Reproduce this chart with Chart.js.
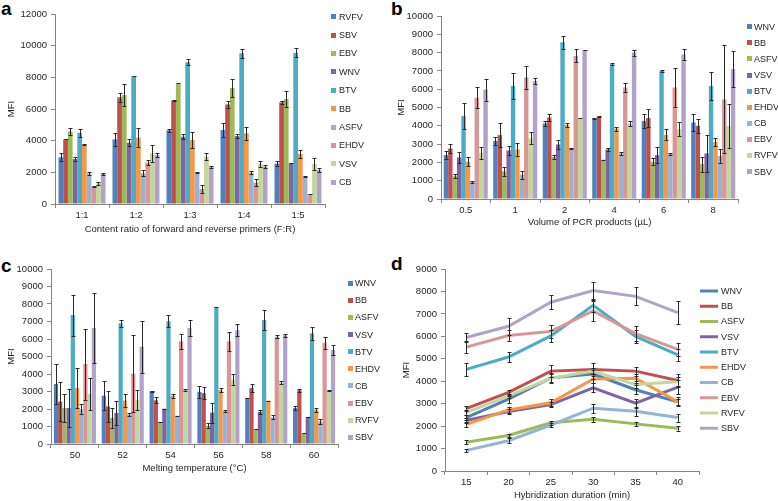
<!DOCTYPE html>
<html><head><meta charset="utf-8">
<script src="https://cdn.jsdelivr.net/npm/chart.js@4.4.1/dist/chart.umd.min.js"></script>
<style>
html,body{margin:0;padding:0;background:#fff;width:778px;height:501px;overflow:hidden;position:relative;font-family:"Liberation Sans",Arial,sans-serif}
canvas{position:absolute}
.lbl{position:absolute;font-weight:bold;font-size:19px;line-height:1;color:#000}
</style></head><body>
<div class="lbl" style="left:1px;top:-1px">a</div>
<div class="lbl" style="left:391px;top:-1px">b</div>
<div class="lbl" style="left:1px;top:256px">c</div>
<div class="lbl" style="left:391px;top:254px">d</div>
<canvas id="ca" width="389" height="250" style="left:0;top:0"></canvas>
<canvas id="cb" width="388" height="250" style="left:390px;top:0"></canvas>
<canvas id="cc" width="389" height="251" style="left:0;top:250px"></canvas>
<canvas id="cd" width="388" height="251" style="left:390px;top:250px"></canvas>
<script>
// ---------- Panel a ----------
const aCategories = ['1:1','1:2','1:3','1:4','1:5'];
const aNames = ['RVFV','SBV','EBV','WNV','BTV','BB','ASFV','EHDV','VSV','CB'];
const a_RVFV = [2950, 4080, 4650, 4670, 2550], a_RVFV_err = [260, 400, 80, 440, 150];
const a_SBV  = [4080, 6740, 6530, 6290, 6420], a_SBV_err  = [0, 280, 50, 230, 100];
const a_EBV  = [4570, 6880, 7620, 7330, 6630], a_EBV_err  = [200, 700, 0, 550, 530];
const a_WNV  = [2840, 3870, 4250, 4290, 2570], a_WNV_err  = [100, 230, 150, 150, 0];
const a_BTV  = [4500, 8080, 8950, 9520, 9560], a_BTV_err  = [250, 0, 180, 280, 280];
const a_BB   = [3730, 4190, 4040, 4460, 3160], a_BB_err   = [30, 580, 500, 420, 270];
const a_ASFV = [1940, 1940, 2000, 1980, 1730], a_ASFV_err = [100, 200, 50, 100, 50];
const a_EHDV = [1100, 2610, 950, 1350, 630],  a_EHDV_err = [50, 170, 230, 230, 0];
const a_VSV  = [1300, 3200, 2990, 2530, 2530], a_VSV_err  = [100, 550, 200, 200, 400];
const a_CB   = [1900, 3090, 2320, 2360, 2150], a_CB_err   = [50, 100, 50, 100, 100];
const aTicks = [0, 2000, 4000, 6000, 8000, 10000, 12000];

// ---------- Panel b ----------
const bCategories = ['0.5','1','2','4','6','8'];
const bNames = ['WNV','BB','ASFV','VSV','BTV','EHDV','CB','EBV','RVFV','SBV'];
const b_WNV  = [2400, 3180, 4130, 4400, 4270, 4180], b_WNV_err  = [240, 230, 120, 50, 380, 450];
const b_BB   = [2760, 3490, 4450, 4490, 4420, 4000], b_BB_err   = [270, 640, 180, 20, 500, 390];
const b_ASFV = [1250, 1510, 2310, 2150, 2040, 1910], b_ASFV_err = [100, 230, 120, 0, 180, 410];
const b_VSV  = [2270, 2650, 2980, 2710, 2400, 2490], b_VSV_err  = [320, 220, 270, 90, 450, 1030];
const b_BTV  = [4530, 6180, 8560, 7360, 7000, 6180], b_BTV_err  = [720, 730, 360, 60, 40, 780];
const b_EHDV = [2040, 2710, 4050, 3850, 3510, 3110], b_EHDV_err = [230, 340, 110, 110, 290, 200];
const b_CB   = [930, 1330, 2760, 2490, 2450, 2350],  b_CB_err   = [80, 210, 40, 70, 70, 360];
const b_EBV  = [5530, 6640, 7820, 6090, 6090, 5440], b_EBV_err  = [570, 610, 350, 270, 1050, 2950];
const b_RVFV = [2530, 3310, 4420, 4110, 3820, 3980], b_RVFV_err = [320, 330, 0, 130, 400, 1200];
const b_SBV  = [5980, 6450, 8130, 8000, 7890, 7100], b_SBV_err  = [600, 180, 0, 160, 300, 1000];

// ---------- Panel c ----------
const cCategories = ['50','52','54','56','58','60'];
const cNames = ['WNV','BB','ASFV','VSV','BTV','EHDV','CB','EBV','RVFV','SBV'];
const c_WNV  = [3430, 2760, 3010, 2970, 2630, 2060], c_WNV_err  = [1120, 830, 20, 320, 0, 100];
const c_BB   = [2420, 2150, 2500, 2910, 3200, 3070], c_BB_err   = [1120, 890, 160, 350, 230, 70];
const c_ASFV = [2060, 1490, 1260, 1050, 860, 630],   c_ASFV_err = [800, 570, 20, 140, 0, 0];
const c_VSV  = [2060, 1770, 2020, 1790, 1830, 1540], c_VSV_err  = [1100, 710, 0, 570, 100, 0];
const c_BTV  = [7370, 6900, 7010, 7810, 7090, 6320], c_BTV_err  = [1170, 190, 340, 0, 590, 380];
const c_EHDV = [3200, 2480, 2760, 3090, 2480, 1960], c_EHDV_err = [1140, 380, 120, 110, 0, 120];
const c_CB   = [2000, 1680, 1620, 1870, 1520, 1280], c_CB_err   = [300, 100, 0, 50, 110, 150];
const c_EBV  = [4570, 4020, 5870, 5870, 6130, 5790], c_EBV_err  = [2030, 2190, 440, 550, 100, 350];
const c_RVFV = [2860, 2500, 3090, 3680, 3500, 3070], c_RVFV_err = [890, 570, 60, 320, 80, 20];
const c_SBV  = [6630, 5560, 6630, 6510, 6210, 5370], c_SBV_err  = [1980, 1480, 440, 360, 100, 300];

// ---------- Panel d ----------
const dCategories = ['15','20','25','30','35','40'];
const dNames = ['WNV','BB','ASFV','VSV','BTV','EHDV','CB','EBV','RVFV','SBV'];
const d_WNV  = [2380, 3200, 4150, 4320, 3620, 3080], d_WNV_err  = [100, 150, 200, 200, 200, 150];
const d_BB   = [2780, 3500, 4450, 4520, 4450, 4030], d_BB_err   = [100, 100, 280, 290, 200, 300];
const d_ASFV = [1280, 1580, 2150, 2300, 2100, 1900], d_ASFV_err = [80, 80, 80, 100, 80, 100];
const d_VSV  = [2250, 2650, 2960, 3700, 3020, 3740], d_VSV_err  = [100, 100, 100, 200, 200, 300];
const d_BTV  = [4530, 5080, 6020, 7380, 6000, 5170], d_BTV_err  = [300, 240, 280, 300, 300, 270];
const d_EHDV = [2080, 2720, 3040, 4100, 4130, 3080], d_EHDV_err = [100, 150, 150, 200, 200, 200];
const d_CB   = [920, 1350, 2050, 2800, 2660, 2380],  d_CB_err   = [60, 100, 80, 200, 200, 180];
const d_EBV  = [5520, 6040, 6220, 7130, 6120, 5420], d_EBV_err  = [280, 250, 300, 450, 350, 300];
const d_RVFV = [2600, 3350, 4130, 4450, 3850, 3980], d_RVFV_err = [100, 100, 200, 150, 150, 200];
const d_SBV  = [5950, 6450, 7520, 8040, 7780, 7060], d_SBV_err  = [200, 380, 320, 400, 400, 520];

const PALETTE = ['#4F81BD','#C0504D','#9BBB59','#8064A2','#4BACC6','#F79646','#95B3D7','#D99694','#C3D69B','#B3A2C7'];
const AX = '#868686', TXT = '#262626';
const FONT = '"Liberation Sans", Arial, sans-serif';
Chart.defaults.font.family = FONT;
Chart.defaults.font.size = 9;
Chart.defaults.color = TXT;

const errorBars = {
  id: 'errorBars',
  afterDatasetsDraw(chart, args, opts) {
    const ctx = chart.ctx, ys = chart.scales.y;
    ctx.save();
    ctx.lineWidth = 1;
    ctx.strokeStyle = opts.color || '#333';
    chart.data.datasets.forEach((ds, i) => {
      if (!ds.errors) return;
      const meta = chart.getDatasetMeta(i);
      meta.data.forEach((el, j) => {
        const v = ds.data[j], e = ds.errors[j];
        const x = Math.round(el.x) + 0.5;
        const t = Math.round(ys.getPixelForValue(v + e)) + 0.5;
        const b = Math.round(ys.getPixelForValue(v - e)) + 0.5;
        const c = opts.cap || 2;
        ctx.beginPath();
        if (e > 0) { ctx.moveTo(x, t); ctx.lineTo(x, b); ctx.moveTo(x - c, b); ctx.lineTo(x + c, b); }
        ctx.moveTo(x - c, t); ctx.lineTo(x + c, t);
        ctx.stroke();
      });
    });
    ctx.restore();
  }
};

const sideLegend = {
  id: 'sideLegend',
  afterDraw(chart, args, o) {
    if (!o || o.x === undefined) return;
    const ctx = chart.ctx;
    ctx.save();
    ctx.font = '9px ' + FONT;
    ctx.textBaseline = 'middle';
    ctx.textAlign = 'left';
    chart.data.datasets.forEach((ds, i) => {
      const y = o.y + i * o.dy;
      if (o.line) {
        ctx.strokeStyle = ds.borderColor; ctx.lineWidth = 3;
        ctx.beginPath(); ctx.moveTo(o.x, y); ctx.lineTo(o.x + o.w, y); ctx.stroke();
      } else {
        ctx.fillStyle = ds.backgroundColor;
        ctx.fillRect(o.x, Math.round(y - o.w / 2), o.w, o.w);
      }
      ctx.fillStyle = TXT;
      ctx.fillText(ds.label, o.x + o.w + o.gap, y + 0.5);
    });
    ctx.restore();
  }
};
Chart.register(errorBars, sideLegend);

function makeChart(id, type, labels, names, values, errs, o) {
  const datasets = names.map((n, i) => {
    const base = { label: n, data: values[i], errors: errs[i] };
    if (type === 'bar') {
      return Object.assign(base, { backgroundColor: PALETTE[i], borderWidth: 0, barPercentage: 1.0, categoryPercentage: o.cat });
    }
    return Object.assign(base, { borderColor: PALETTE[i], backgroundColor: PALETTE[i], borderWidth: 3, pointRadius: 0, tension: 0, order: -i });
  });
  return new Chart(document.getElementById(id), {
    type,
    data: { labels, datasets },
    options: {
      responsive: false, animation: false, devicePixelRatio: 1,
      layout: { autoPadding: false, padding: { left: 0, top: o.top, right: o.right, bottom: 0 } },
      plugins: {
        legend: { display: false }, tooltip: { enabled: false },
        errorBars: { color: '#2a2a2a', cap: o.cap },
        sideLegend: o.legend
      },
      scales: {
        x: {
          offset: true,
          grid: { display: true, drawOnChartArea: false, drawTicks: true, tickLength: 4, color: AX, offset: true },
          border: { color: AX },
          ticks: { color: TXT, font: { size: 9.5 }, padding: 2, maxRotation: 0, autoSkip: false },
          title: { display: true, text: o.xTitle, color: TXT, font: { size: 9.5 }, padding: { top: 0, bottom: o.xTitlePad } },
          afterFit(s) { s.height = o.xH; }
        },
        y: {
          min: 0, max: o.max,
          afterBuildTicks(s) { s.ticks = o.ticks.map(v => ({ value: v })); },
          ticks: { color: TXT, font: { size: 9.5 }, padding: 4, callback: v => String(v) },
          grid: { display: true, drawOnChartArea: false, drawTicks: true, tickLength: 4, color: AX },
          border: { color: AX },
          title: { display: true, text: 'MFI', color: TXT, font: { size: 9.5 }, padding: { top: o.yTitlePad, bottom: 0 } },
          afterFit(s) { s.width = o.yW; }
        }
      }
    }
  });
}

const tenTicks = [0,1000,2000,3000,4000,5000,6000,7000,8000,9000,10000];
const nineTicks = [0,1000,2000,3000,4000,5000,6000,7000,8000,9000];

makeChart('ca', 'bar', aCategories, aNames,
  [a_RVFV, a_SBV, a_EBV, a_WNV, a_BTV, a_BB, a_ASFV, a_EHDV, a_VSV, a_CB],
  [a_RVFV_err, a_SBV_err, a_EBV_err, a_WNV_err, a_BTV_err, a_BB_err, a_ASFV_err, a_EHDV_err, a_VSV_err, a_CB_err],
  { cat: 0.87, top: 14, right: 64, xH: 46, yW: 55, max: 12000, ticks: aTicks, cap: 2,
    xTitle: 'Content ratio of forward and reverse primers (F:R)', xTitlePad: 15, yTitlePad: 6,
    legend: { x: 331, y: 16.7, dy: 18.4, w: 5, gap: 3 } });

makeChart('cb', 'bar', bCategories, bNames,
  [b_WNV, b_BB, b_ASFV, b_VSV, b_BTV, b_EHDV, b_CB, b_EBV, b_RVFV, b_SBV],
  [b_WNV_err, b_BB_err, b_ASFV_err, b_VSV_err, b_BTV_err, b_EHDV_err, b_CB_err, b_EBV_err, b_RVFV_err, b_SBV_err],
  { cat: 0.89, top: 16, right: 40, xH: 51, yW: 51, max: 10000, ticks: tenTicks, cap: 2,
    xTitle: 'Volume of PCR products (\u00b5L)', xTitlePad: 22, yTitlePad: 6,
    legend: { x: 357, y: 26.7, dy: 16.1, w: 5, gap: 2 } });

makeChart('cc', 'bar', cCategories, cNames,
  [c_WNV, c_BB, c_ASFV, c_VSV, c_BTV, c_EHDV, c_CB, c_EBV, c_RVFV, c_SBV],
  [c_WNV_err, c_BB_err, c_ASFV_err, c_VSV_err, c_BTV_err, c_EHDV_err, c_CB_err, c_EBV_err, c_RVFV_err, c_SBV_err],
  { cat: 0.88, top: 19, right: 51, xH: 57, yW: 51, max: 10000, ticks: tenTicks, cap: 2,
    xTitle: 'Melting temperature (\u00b0C)', xTitlePad: 27, yTitlePad: 6,
    legend: { x: 348, y: 33.3, dy: 17.1, w: 5, gap: 2 } });

makeChart('cd', 'line', dCategories, dNames,
  [d_WNV, d_BB, d_ASFV, d_VSV, d_BTV, d_EHDV, d_CB, d_EBV, d_RVFV, d_SBV],
  [d_WNV_err, d_BB_err, d_ASFV_err, d_VSV_err, d_BTV_err, d_EHDV_err, d_CB_err, d_EBV_err, d_RVFV_err, d_SBV_err],
  { cat: 0.9, top: 19, right: 79, xH: 30, yW: 55, max: 9000, ticks: nineTicks, cap: 2,
    xTitle: 'Hybridization duration (min)', xTitlePad: 0, yTitlePad: 11,
    legend: { x: 310, y: 41, dy: 15.25, w: 18, gap: 3, line: true } });
</script>
</body></html>
